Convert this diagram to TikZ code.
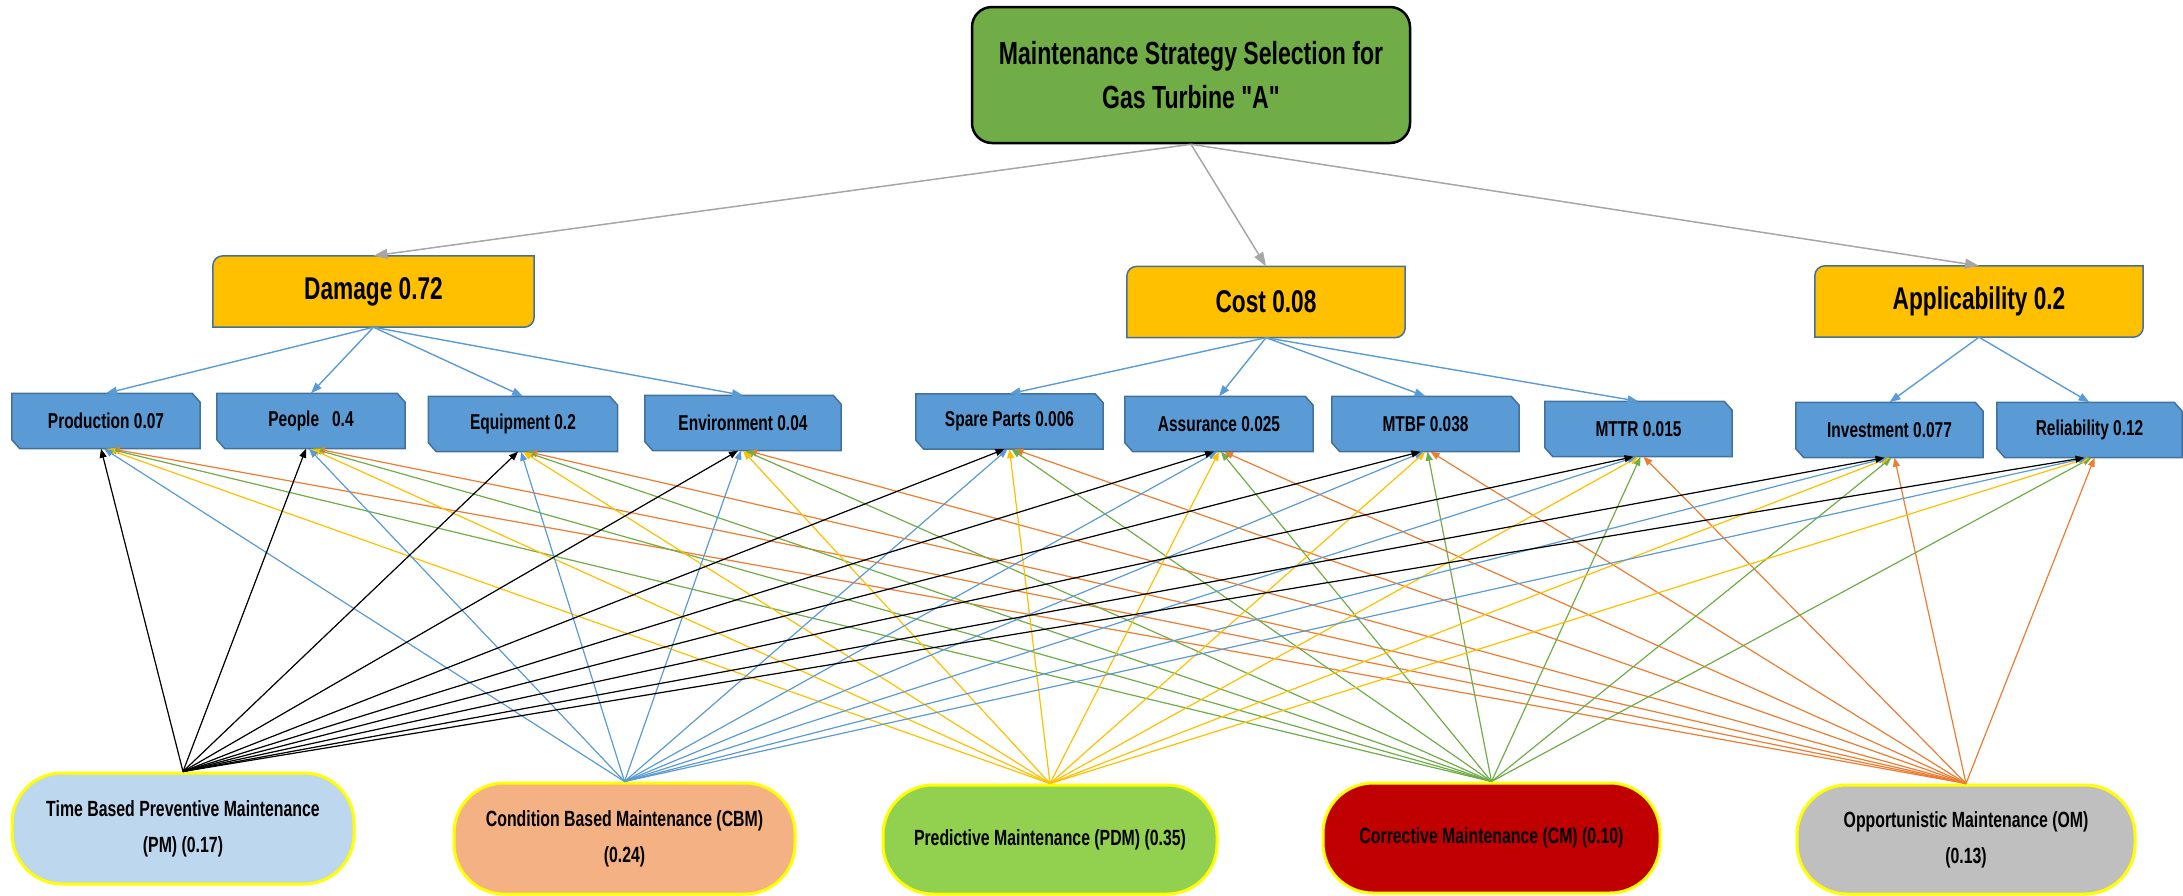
\documentclass[tikz,border=0pt]{standalone}
\usepackage{fontspec}
\setmainfont[FakeStretch=0.72, Ligatures=TeXOff]{Liberation Sans}
\usetikzlibrary{arrows.meta}
\pgfdeclarelayer{background}
\pgfsetlayers{background,main}
\definecolor{goalgreen}{HTML}{70AD47}
\definecolor{critgold}{HTML}{FFC000}
\definecolor{edgeblue}{HTML}{41719C}
\definecolor{subblue}{HTML}{5B9BD5}
\definecolor{linkgray}{HTML}{A6A6A6}
\definecolor{pmc}{HTML}{BDD7EE}
\definecolor{cbmc}{HTML}{F4B183}
\definecolor{pdmc}{HTML}{92D050}
\definecolor{cmc}{HTML}{C00000}
\definecolor{omc}{HTML}{BFBFBF}
\definecolor{pdmline}{HTML}{FFC000}
\definecolor{cmline}{HTML}{70AD47}
\definecolor{omline}{HTML}{ED7D31}
\definecolor{borderyellow}{HTML}{FFFF00}
\newcommand{\critshape}[1]{\filldraw[critstyle] ([yshift=-10pt]#1.north west) arc[start angle=180,end angle=90,radius=10pt] -- (#1.north east) -- ([yshift=10pt]#1.south east) arc[start angle=0,end angle=-90,radius=10pt] -- (#1.south west) -- cycle;}
\newcommand{\subshape}[1]{\filldraw[substyle] (#1.north west) -- ([xshift=-8pt]#1.north east) -- ([yshift=-9pt]#1.north east) -- (#1.south east) -- ([xshift=8pt]#1.south west) -- ([yshift=9pt]#1.south west) -- cycle;}
\tikzset{
  goalbox/.style={draw=black, line width=2.5pt, fill=goalgreen, rounded corners=20pt, align=center, inner sep=0pt,
    font=\fontsize{32}{44}\selectfont\bfseries},
  critbox/.style={inner sep=0pt, minimum height=71pt, font=\fontsize{31.5}{36}\selectfont\bfseries},
  critstyle/.style={fill=critgold, draw=edgeblue, line width=1.5pt},
  subbox/.style={inner sep=0pt, minimum width=188pt, minimum height=55pt, font=\fontsize{21.5}{26}\selectfont\bfseries},
  substyle/.style={fill=subblue, draw=edgeblue, line width=1.5pt},
  altbox/.style={draw=borderyellow, line width=3pt, rounded corners=50pt, inner sep=0pt, align=center,
    font=\fontsize{22}{36}\selectfont\bfseries},
  toplink/.style={draw=linkgray, line width=1.5pt, -{Triangle[length=14pt,width=10pt]}},
  sublink/.style={draw=subblue, line width=1.4pt, -{Triangle[length=11pt,width=8pt]}},
  altlink/.style={line width=1.2pt, -{Triangle[length=9pt,width=7pt]}}
}
\begin{document}
\begin{tikzpicture}[x=1pt,y=-1pt]
\useasboundingbox (0,0) rectangle (2183,895);
% goal
\node[goalbox, minimum width=438pt, minimum height=136pt] (goal) at (1191,75) {Maintenance Strategy Selection for\\Gas Turbine "A"};
% criteria
\node[critbox, minimum width=321pt] (dmg) at (373.5,291.5) {Damage 0.72};
\node[critbox, minimum width=278pt] (cost) at (1266,302) {Cost 0.08};
\node[critbox, minimum width=328pt] (appl) at (1979,301.5) {Applicability 0.2};
% sub-criteria
\node[subbox] (prod) at (106,421) {Production 0.07};
\node[subbox] (peop) at (311,421) {People\hspace{13pt}0.4};
\node[subbox, minimum width=189pt] (equi) at (523,424) {Equipment 0.2};
\node[subbox, minimum width=196pt] (envi) at (743,423) {Environment 0.04};
\node[subbox, minimum width=187pt] (spar) at (1009.5,421.5) {Spare Parts 0.006};
\node[subbox] (assu) at (1219,424) {Assurance 0.025};
\node[subbox, minimum width=187pt] (mtbf) at (1425.5,424) {MTBF 0.038};
\node[subbox, minimum width=187pt] (mttr) at (1638.5,429) {MTTR 0.015};
\node[subbox, minimum width=187pt] (inve) at (1889.5,430) {Investment 0.077};
\node[subbox, minimum width=185pt] (reli) at (2089.5,430) {Reliability 0.12};
% alternatives
\node[altbox, fill=pmc, minimum width=342pt, minimum height=111pt] (pm) at (183,828.5) {Time Based Preventive Maintenance\\(PM) (0.17)};
\node[altbox, fill=cbmc, minimum width=341pt, minimum height=111pt] (cbm) at (624.5,838.5) {Condition Based Maintenance (CBM)\\(0.24)};
\node[altbox, fill=pdmc, minimum width=334pt, minimum height=109pt] (pdm) at (1050,839.5) {Predictive Maintenance (PDM) (0.35)};
\node[altbox, fill=cmc, minimum width=337pt, minimum height=110pt] (cm) at (1491.5,838) {Corrective Maintenance (CM) (0.10)};
\node[altbox, fill=omc, minimum width=338pt, minimum height=109pt] (om) at (1966,839.5) {Opportunistic Maintenance (OM)\\(0.13)};
% shapes behind text
\begin{pgfonlayer}{background}
\critshape{dmg}
\critshape{cost}
\critshape{appl}
\foreach \s in {prod,peop,equi,envi,spar,assu,mtbf,mttr,inve,reli} {\subshape{\s}}
\end{pgfonlayer}
% goal to criteria
\draw[toplink] (goal.south) -- (dmg.north);
\draw[toplink] (goal.south) -- (cost.north);
\draw[toplink] (goal.south) -- (appl.north);
% criteria to sub-criteria
\foreach \s in {prod,peop,equi,envi} {\draw[sublink] (dmg.south) -- (\s.north);}
\foreach \s in {spar,assu,mtbf,mttr} {\draw[sublink] (cost.south) -- (\s.north);}
\foreach \s in {inve,reli} {\draw[sublink] (appl.south) -- (\s.north);}
% alternatives to sub-criteria
\foreach \a/\c/\o in {om/omline/5, cm/cmline/2, pdm/pdmline/0, cbm/subblue/-2, pm/black/-5} {
  \foreach \s in {prod,peop,equi,envi,spar,assu,mtbf,mttr,inve,reli} {
    \draw[altlink, draw=\c, fill=\c] (\a.north) -- ([xshift=\o pt]\s.south);
  }
}
\end{tikzpicture}
\end{document}
